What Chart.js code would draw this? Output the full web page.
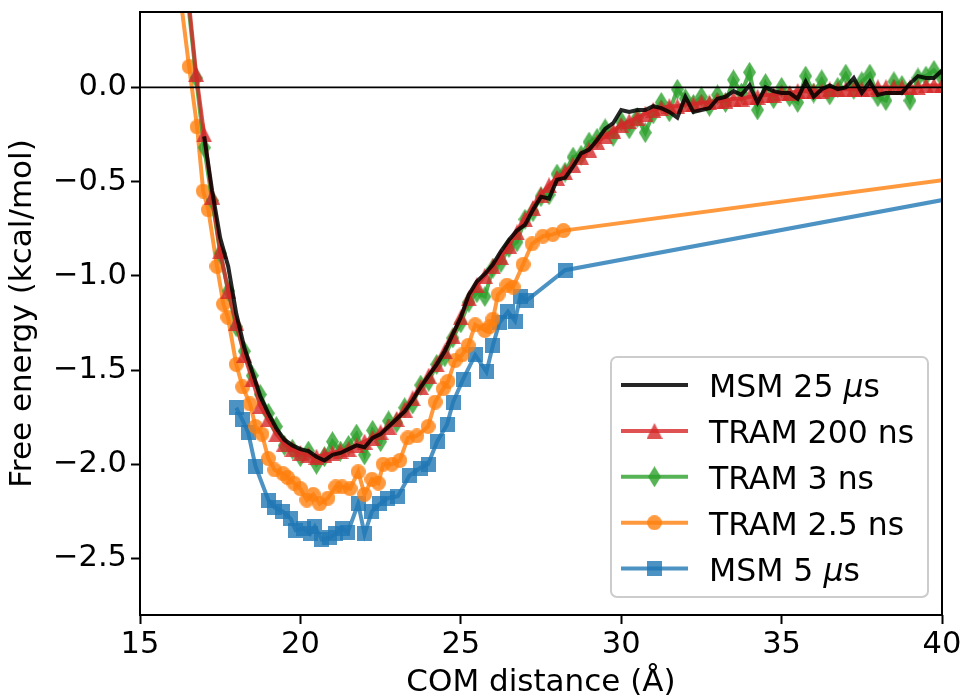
<!DOCTYPE html>
<html>
<head>
<meta charset="utf-8">
<script src="https://cdn.jsdelivr.net/npm/chart.js@4.4.1/dist/chart.umd.min.js"></script>
<style>
  body { margin: 0; background: #fff; }
</style>
</head>
<body>
<canvas id="chart" width="964" height="698"></canvas>
<script>
// axis limits and ticks
const xMin = 15, xMax = 40, yMin = -2.8, yMax = 0.4;
const xTicks = [15, 20, 25, 30, 35, 40];
const yTicks = [0, -0.5, -1, -1.5, -2, -2.5];

const seriesNames = ['MSM 25 μs', 'TRAM 200 ns', 'TRAM 3 ns', 'TRAM 2.5 ns', 'MSM 5 μs'];

// shared distance grid (Å) for the dense series
const distance = [
  16.5, 16.75, 17, 17.25, 17.5, 17.75, 18, 18.25,
  18.5, 18.75, 19, 19.25, 19.5, 19.75, 20, 20.25,
  20.5, 20.75, 21, 21.25, 21.5, 21.75, 22, 22.25,
  22.5, 22.75, 23, 23.25, 23.5, 23.75, 24, 24.25,
  24.5, 24.75, 25, 25.25, 25.5, 25.75, 26, 26.25,
  26.5, 26.75, 27, 27.25, 27.5, 27.75, 28, 28.25,
  28.5, 28.75, 29, 29.25, 29.5, 29.75, 30, 30.25,
  30.5, 30.75, 31, 31.25, 31.5, 31.75, 32, 32.25,
  32.5, 32.75, 33, 33.25, 33.5, 33.75, 34, 34.25,
  34.5, 34.75, 35, 35.25, 35.5, 35.75, 36, 36.25,
  36.5, 36.75, 37, 37.25, 37.5, 37.75, 38, 38.25,
  38.5, 38.75, 39, 39.25, 39.5, 39.75, 40
];

// MSM 25 us (black line)
const msm25 = [
  null, null, -0.26, -0.55, -0.80, -0.95, -1.20, -1.38,
  -1.51, -1.64, -1.73, -1.81, -1.87, -1.90, -1.92, -1.93,
  -1.96, -1.98, -1.95, -1.94, -1.92, -1.90, -1.91, -1.86,
  -1.84, -1.80, -1.76, -1.72, -1.66, -1.59, -1.53, -1.47,
  -1.40, -1.31, -1.22, -1.10, -1.03, -0.99, -0.94, -0.87,
  -0.81, -0.76, -0.73, -0.65, -0.58, -0.59, -0.49, -0.48,
  -0.42, -0.35, -0.33, -0.28, -0.22, -0.19, -0.12, -0.13,
  -0.12, -0.12, -0.10, -0.11, -0.13, -0.16, -0.05, -0.13,
  -0.12, -0.11, -0.06, -0.05, -0.02, -0.04, 0.01, -0.08,
  0.00, -0.02, -0.03, -0.03, -0.06, 0.03, -0.05, -0.01,
  0.01, -0.01, 0.00, 0.05, -0.03, 0.03, -0.04, -0.03,
  -0.03, -0.03, 0.02, 0.06, 0.05, 0.05, 0.09
];

// TRAM 200 ns (red triangles)
const tram200 = [
  0.49, 0.07, -0.25, -0.58, -0.87, -1.08, -1.25, -1.42,
  -1.55, -1.69, -1.76, -1.84, -1.89, -1.92, -1.94, -1.95,
  -1.96, -1.95, -1.94, -1.93, -1.92, -1.90, -1.88, -1.86,
  -1.83, -1.80, -1.76, -1.71, -1.65, -1.59, -1.53, -1.47,
  -1.40, -1.32, -1.22, -1.12, -1.05, -1.00, -0.95, -0.90,
  -0.84, -0.77, -0.70, -0.64, -0.57, -0.52, -0.48, -0.45,
  -0.41, -0.37, -0.33, -0.29, -0.26, -0.23, -0.20, -0.18,
  -0.16, -0.14, -0.12, -0.11, -0.10, -0.10, -0.09, -0.09,
  -0.08, -0.08, -0.07, -0.07, -0.06, -0.06, -0.05, -0.05,
  -0.04, -0.04, -0.03, -0.03, -0.02, -0.02, -0.02, -0.02,
  -0.01, -0.01, -0.01, -0.01, -0.01, -0.01, 0.00, 0.00,
  0.00, 0.00, 0.00, 0.00, 0.01, 0.01, 0.01
];

// TRAM 3 ns (green diamonds)
const tram3 = [
  0.45, 0.05, -0.32, -0.60, -0.88, -1.08, -1.27, -1.40,
  -1.53, -1.63, -1.73, -1.80, -1.90, -1.92, -1.96, -1.93,
  -2.00, -1.96, -1.88, -1.93, -1.90, -1.84, -1.95, -1.82,
  -1.88, -1.77, -1.78, -1.70, -1.68, -1.58, -1.56, -1.47,
  -1.43, -1.33, -1.25, -1.14, -1.09, -1.11, -0.96, -0.93,
  -0.85, -0.82, -0.70, -0.66, -0.58, -0.57, -0.46, -0.45,
  -0.37, -0.36, -0.29, -0.27, -0.22, -0.26, -0.18, -0.22,
  -0.16, -0.24, -0.14, -0.08, -0.13, -0.01, -0.06, -0.09,
  -0.05, -0.10, -0.04, -0.08, 0.04, -0.03, 0.08, -0.12,
  0.02, -0.06, 0.00, -0.05, -0.08, 0.06, -0.03, 0.04,
  -0.04, 0.00, 0.07, -0.01, 0.03, 0.07, -0.05, -0.07,
  0.03, 0.01, -0.07, 0.05, 0.06, 0.09, 0.05
];

// TRAM 2.5 ns (orange circles), last point lies past the x limit
const tram25X = [
  16.28, 16.53, 16.78, 16.97, 17.13, 17.4, 17.6, 17.74, 18.0, 18.2,
  18.43, 18.6, 18.8, 19.0, 19.2, 19.46, 19.6, 19.8, 20.0, 20.2,
  20.4, 20.6, 20.86, 21.1, 21.3, 21.55, 21.8, 22.0, 22.23, 22.43,
  22.58, 22.85, 23.1, 23.35, 23.63, 23.98, 24.2, 24.45, 24.6, 24.82,
  25.04, 25.23, 25.45, 25.75, 25.9, 26.0, 26.16, 26.44, 26.63, 26.94,
  27.22, 27.56, 27.87, 28.2, 45
];
const tram25 = [
  0.45, 0.11, -0.21, -0.55, -0.65, -0.95, -1.15, -1.22, -1.47, -1.59,
  -1.68, -1.80, -1.84, -1.97, -2.03, -2.05, -2.07, -2.10, -2.13, -2.19,
  -2.16, -2.21, -2.18, -2.12, -2.12, -2.13, -2.04, -2.16, -2.08, -2.10,
  -2.00, -2.00, -1.98, -1.86, -1.85, -1.80, -1.67, -1.60, -1.56, -1.45,
  -1.42, -1.37, -1.26, -1.29, -1.27, -1.23, -1.10, -1.05, -1.06, -0.94,
  -0.83, -0.79, -0.78, -0.76, -0.38
];

// MSM 5 us (blue squares)
const msm5X = [
  18.0, 18.18, 18.37, 18.6, 19.0, 19.2, 19.45, 19.7, 19.85, 20.1,
  20.3, 20.45, 20.67, 20.9, 21.1, 21.3, 21.48, 21.8, 22.0, 22.23,
  22.48, 22.73, 23.04, 23.4, 23.73, 23.98, 24.26, 24.57, 24.76, 25.07,
  25.45, 25.8, 26.0, 26.2, 26.47, 26.69, 26.85, 27.06, 28.25, 45
];
const msm5 = [
  -1.70, -1.76, -1.83, -2.01, -2.19, -2.23, -2.25, -2.29, -2.35, -2.34,
  -2.37, -2.33, -2.40, -2.39, -2.37, -2.34, -2.36, -2.21, -2.37, -2.25,
  -2.21, -2.18, -2.17, -2.06, -2.02, -2.00, -1.88, -1.79, -1.67, -1.55,
  -1.42, -1.51, -1.37, -1.25, -1.19, -1.24, -1.11, -1.13, -0.97, -0.44
];

const FONT = 'DejaVu Sans';
Chart.defaults.font.family = FONT;
Chart.defaults.color = '#000';

// pair x and y lists, skipping missing values
function toPoints(xs, ys) {
  const pts = [];
  xs.forEach((x, i) => {
    if (ys[i] !== null) pts.push({ x: x, y: ys[i] });
  });
  return pts;
}

// small canvases used as marker images (matplotlib-like shapes)
function makeMarker(shape, color, w, h) {
  const c = document.createElement('canvas');
  c.width = w;
  c.height = h;
  const g = c.getContext('2d');
  g.fillStyle = color;
  g.beginPath();
  if (shape === 'triangle') {
    g.moveTo(w / 2, 0); g.lineTo(w, h); g.lineTo(0, h);
  } else if (shape === 'diamond') {
    g.moveTo(w / 2, 0); g.lineTo(w, h / 2); g.lineTo(w / 2, h); g.lineTo(0, h / 2);
  } else if (shape === 'circle') {
    g.arc(w / 2, h / 2, w / 2, 0, Math.PI * 2);
  } else {
    g.rect(0, 0, w, h);
  }
  g.closePath();
  g.fill();
  return c;
}

const colors = [
  'rgba(0, 0, 0, 0.85)',
  'rgba(214, 39, 40, 0.8)',
  'rgba(44, 160, 44, 0.8)',
  'rgba(255, 127, 14, 0.8)',
  'rgba(31, 119, 180, 0.8)'
];
const markers = [
  null,
  makeMarker('triangle', colors[1], 16, 16),
  makeMarker('diamond', colors[2], 13, 21),
  makeMarker('circle', colors[3], 15, 15),
  makeMarker('square', colors[4], 15, 15)
];

function series(i, pts) {
  return {
    label: seriesNames[i],
    data: pts,
    borderColor: colors[i],
    borderWidth: 4,
    pointStyle: markers[i] || 'circle',
    pointRadius: markers[i] ? 8 : 0,
    tension: 0,
    fill: false,
    clip: 0
  };
}

// first dataset is drawn on top
const datasets = [
  {
    label: 'zero',
    data: [{ x: xMin, y: 0 }, { x: xMax, y: 0 }],
    borderColor: '#000',
    borderWidth: 1.8,
    pointRadius: 0,
    clip: 0
  },
  series(0, toPoints(distance, msm25)),
  series(1, toPoints(distance, tram200)),
  series(2, toPoints(distance, tram3)),
  series(3, toPoints(tram25X, tram25)),
  series(4, toPoints(msm5X, msm5))
];

// box round the axes, like matplotlib spines
const frame = {
  id: 'frame',
  afterDatasetsDraw(chart) {
    const a = chart.chartArea;
    const ctx = chart.ctx;
    ctx.save();
    ctx.strokeStyle = '#000';
    ctx.lineWidth = 2;
    ctx.strokeRect(a.left, a.top, a.right - a.left, a.bottom - a.top);
    ctx.restore();
  }
};

// legend with a line + marker handle, drawn inside the lower right corner
const legendBox = {
  id: 'legendBox',
  afterDraw(chart) {
    const a = chart.chartArea;
    const ctx = chart.ctx;
    const w = 317, h = 240;
    const right = a.right - 14, bottom = a.bottom - 18;
    const left = right - w, top = bottom - h;
    ctx.save();
    ctx.beginPath();
    ctx.roundRect(left, top, w, h, 6);
    ctx.fillStyle = 'rgba(255, 255, 255, 0.8)';
    ctx.fill();
    ctx.strokeStyle = '#cccccc';
    ctx.lineWidth = 2;
    ctx.stroke();

    const font = '31.5px "' + FONT + '"';
    seriesNames.forEach((name, i) => {
      const y = top + 28 + i * 45.9;
      ctx.strokeStyle = colors[i];
      ctx.lineWidth = 4;
      ctx.beginPath();
      ctx.moveTo(left + 10, y);
      ctx.lineTo(left + 77, y);
      ctx.stroke();
      const m = markers[i];
      if (m) ctx.drawImage(m, left + 43.5 - m.width / 2, y - m.height / 2);

      // text, with the mu set in italic like mathtext
      ctx.fillStyle = '#000';
      ctx.textBaseline = 'alphabetic';
      let x = left + 98;
      name.split(/(μ)/).forEach(part => {
        if (!part) return;
        ctx.font = part === 'μ' ? 'italic ' + font : font;
        ctx.fillText(part, x, y + 12);
        x += ctx.measureText(part).width;
      });
    });
    ctx.restore();
  }
};

const tickFont = { size: 30.5, family: FONT };
const titleFont = { size: 31, family: FONT };
const axisGrid = {
  display: true,
  drawOnChartArea: false,
  drawTicks: true,
  tickLength: 9,
  tickWidth: 2,
  tickColor: '#000',
  color: '#000'
};

new Chart(document.getElementById('chart'), {
  type: 'line',
  data: { datasets: datasets },
  options: {
    responsive: false,
    animation: false,
    events: [],
    layout: { padding: { top: 10, right: 22, left: 0, bottom: 0 } },
    plugins: {
      legend: { display: false },
      tooltip: { enabled: false }
    },
    scales: {
      x: {
        type: 'linear',
        min: xMin,
        max: xMax,
        afterFit: s => { s.height = 83; s.paddingLeft = 0; s.paddingRight = 0; },
        afterBuildTicks: s => { s.ticks = xTicks.map(v => ({ value: v })); },
        grid: axisGrid,
        border: { display: false },
        ticks: { font: tickFont, color: '#000', padding: 3, maxRotation: 0, callback: v => String(v) },
        title: { display: true, text: 'COM distance (Å)', font: titleFont, color: '#000', padding: { top: 0, bottom: -4 } }
      },
      y: {
        type: 'linear',
        min: yMin,
        max: yMax,
        afterFit: s => { s.width = 140; s.paddingTop = 0; s.paddingBottom = 0; },
        afterBuildTicks: s => { s.ticks = yTicks.map(v => ({ value: v })); },
        grid: axisGrid,
        border: { display: false },
        ticks: { font: tickFont, color: '#000', padding: 4, callback: v => v.toFixed(1).replace('-', '\u2212') },
        title: { display: true, text: 'Free energy (kcal/mol)', font: titleFont, color: '#000', padding: { top: 4, bottom: 0 } }
      }
    }
  },
  plugins: [frame, legendBox]
});
</script>
</body>
</html>
